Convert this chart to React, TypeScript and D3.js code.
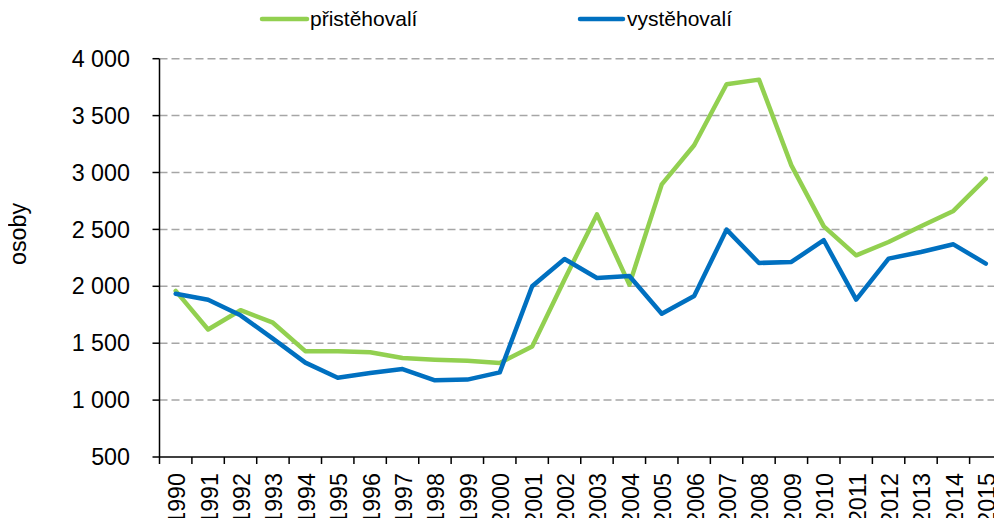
import React from "react";
import * as d3 from "d3";

const years = [
  "1990", "1991", "1992", "1993", "1994", "1995", "1996", "1997", "1998",
  "1999", "2000", "2001", "2002", "2003", "2004", "2005", "2006", "2007",
  "2008", "2009", "2010", "2011", "2012", "2013", "2014", "2015",
];

// přistěhovalí
const immigrants = [
  1960, 1620, 1790, 1680, 1430, 1430, 1420, 1370, 1355, 1345, 1326, 1470,
  2060, 2632, 2015, 2896, 3239, 3775, 3816, 3063, 2527, 2272, 2389, 2527,
  2662, 2946,
];

// vystěhovalí
const emigrants = [
  1935, 1882, 1745, 1540, 1329, 1197, 1238, 1273, 1174, 1180, 1244, 2000,
  2240, 2073, 2090, 1759, 1915, 2498, 2205, 2214, 2405, 1883, 2243, 2301,
  2369, 2199,
];

const yTicks = [500, 1000, 1500, 2000, 2500, 3000, 3500, 4000];

const series = [
  { name: "přistěhovalí", values: immigrants, color: "#92D050" },
  { name: "vystěhovalí", values: emigrants, color: "#0070C0" },
];

const W = 1002;
const H = 526;
const margin = { top: 58.7, right: 0, bottom: 69, left: 159.5 };
const font = "Arial, 'Liberation Sans', sans-serif";
const axisFont = 23.3;
const legendFont = 21;

const fmt = (v: number) => d3.format(",")(v).replace(/,/g, " ");

const App = () => {
  const x = d3
    .scalePoint<string>()
    .domain(years)
    .range([margin.left, W - margin.right])
    .padding(0.5);

  const y = d3
    .scaleLinear()
    .domain([500, 4000])
    .range([H - margin.bottom, margin.top]);

  const step = x.step();
  const bottom = H - margin.bottom;

  const line = d3
    .line<number>()
    .x((_, i) => x(years[i]) as number)
    .y((d) => y(d));

  // legend positions
  const legend = [
    { x1: 262, x2: 307, tx: 310 },
    { x1: 580, x2: 623, tx: 627 },
  ];

  return (
    <div style={{ margin: -8 }}>
      <svg width={W} height={H} style={{ display: "block", background: "#fff" }}>
        {/* gridlines */}
        {yTicks.slice(1).map((t) => (
          <line
            key={t}
            x1={margin.left}
            x2={W - margin.right}
            y1={y(t)}
            y2={y(t)}
            stroke="#A6A6A6"
            strokeWidth={1.5}
            strokeDasharray="8 4"
          />
        ))}

        {/* y axis */}
        <line x1={margin.left} x2={margin.left} y1={margin.top} y2={bottom} stroke="#000" strokeWidth={1.5} />
        {yTicks.map((t) => (
          <g key={t}>
            <line x1={margin.left - 7} x2={margin.left} y1={y(t)} y2={y(t)} stroke="#000" strokeWidth={1.5} />
            <text
              x={130}
              y={y(t)}
              dy="0.35em"
              textAnchor="end"
              fontFamily={font}
              fontSize={axisFont}
              fill="#000"
            >
              {fmt(t)}
            </text>
          </g>
        ))}
        <text
          transform={`translate(25.5, 234) rotate(-90)`}
          textAnchor="middle"
          fontFamily={font}
          fontSize={axisFont}
          fill="#000"
        >
          osoby
        </text>

        {/* x axis */}
        <line x1={margin.left} x2={W} y1={bottom} y2={bottom} stroke="#000" strokeWidth={1.5} />
        {d3.range(years.length + 1).map((i) => (
          <line
            key={i}
            x1={margin.left + i * step}
            x2={margin.left + i * step}
            y1={bottom}
            y2={bottom + 7}
            stroke="#000"
            strokeWidth={1.5}
          />
        ))}
        {years.map((yr) => (
          <text
            key={yr}
            transform={`translate(${(x(yr) as number) + 9.5}, ${bottom + 16}) rotate(-90)`}
            textAnchor="end"
            fontFamily={font}
            fontSize={axisFont}
            fill="#000"
          >
            {yr}
          </text>
        ))}

        {/* lines */}
        {series.map((s) => (
          <path
            key={s.name}
            d={line(s.values) || ""}
            fill="none"
            stroke={s.color}
            strokeWidth={4.5}
            strokeLinejoin="round"
            strokeLinecap="round"
          />
        ))}

        {/* legend */}
        {series.map((s, i) => (
          <g key={s.name}>
            <line
              x1={legend[i].x1}
              x2={legend[i].x2}
              y1={19}
              y2={19}
              stroke={s.color}
              strokeWidth={4.5}
              strokeLinecap="round"
            />
            <text
              x={legend[i].tx}
              y={19}
              dy="0.35em"
              fontFamily={font}
              fontSize={legendFont}
              fill="#000"
            >
              {s.name}
            </text>
          </g>
        ))}
      </svg>
    </div>
  );
};

export default App;
